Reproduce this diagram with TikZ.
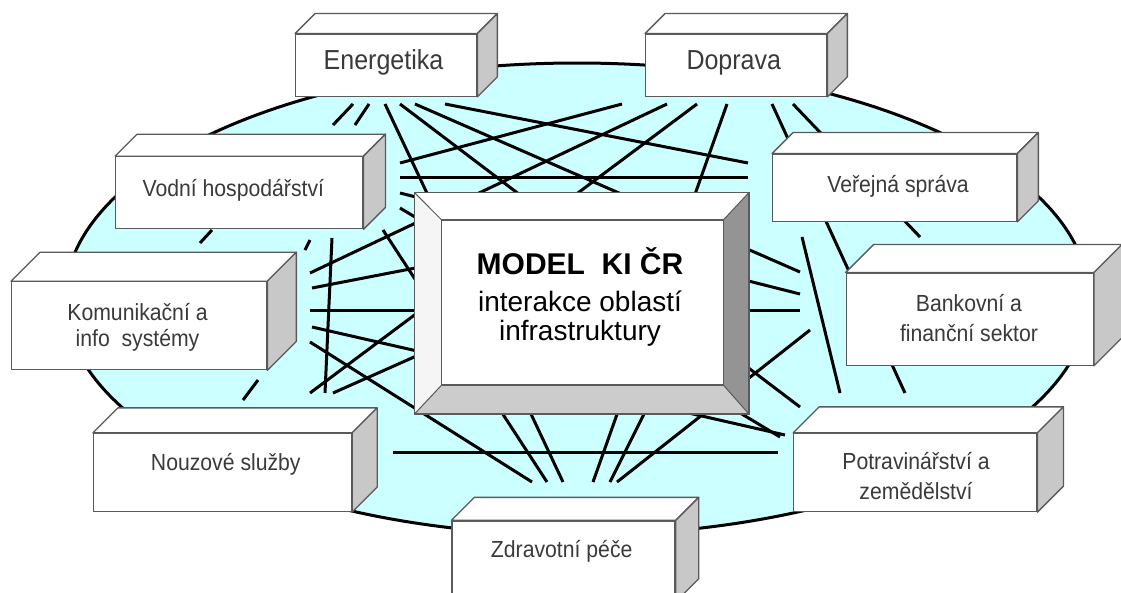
\documentclass[tikz,border=0pt]{standalone}
\usepackage{fontspec}
\setmainfont{Liberation Sans}
\newfontfamily\labfont[FakeStretch=0.91]{Liberation Sans}
\definecolor{sea}{HTML}{CCFFFF}
\definecolor{boxline}{HTML}{5A5A5A}
\definecolor{side}{HTML}{C8C8C8}
\definecolor{labtext}{HTML}{3A3A3A}
\tikzset{
  link/.style={line width=3pt, black},
  front/.style={draw=boxline, fill=white, line width=1.3pt, inner sep=0pt},
  lab/.style={anchor=base, text=labtext, inner sep=0pt, font=\labfont\fontsize{23.3}{26}\selectfont},
  labbig/.style={lab, font=\labfont\fontsize{27.5}{30}\selectfont},
}
\newcommand\boxfaces[2]{%
  \filldraw[fill=white, draw=boxline, line width=1.3pt, line join=round]
    (#1.north west) -- ++(#2,-#2) -- ([shift={(#2,-#2)}]#1.north east) -- (#1.north east) -- cycle;
  \filldraw[fill=side, draw=boxline, line width=1.3pt, line join=round]
    (#1.north east) -- ++(#2,-#2) -- ([shift={(#2,-#2)}]#1.south east) -- (#1.south east) -- cycle;
}
\begin{document}
\begin{tikzpicture}[x=1pt, y=-1pt]
\useasboundingbox (0,0) rectangle (1121,592);
\begin{scope}
\clip (0,0) rectangle (1121,592);
% sea
\fill[sea, draw=black, line width=3pt] (577,299) ellipse [x radius=512, y radius=236];
% links: Energetika
\draw[link] (333,125) -- (353,104);
\draw[link] (200,243) -- (212,230);
\draw[link] (355,125) -- (369,104);
\draw[link] (305,250) -- (310,240);
\draw[link] (385,104) -- (563,482);
\draw[link] (400,104) -- (800,407);
\draw[link] (415,104) -- (800,272);
\draw[link] (445,104) -- (748,163);
% Doprava
\draw[link] (622,104) -- (400,163);
\draw[link] (667,104) -- (310,273);
\draw[link] (697,104) -- (310,393);
\draw[link] (727,104) -- (593,482);
\draw[link] (772,104) -- (905,393);
\draw[link] (793,104) -- (920,237);
% Vodni
\draw[link] (400,177) -- (748,177);
\draw[link] (400,193) -- (800,294);
\draw[link] (400,208) -- (780,437);
\draw[link] (383,230) -- (547,482);
\draw[link] (332,238) -- (325,393);
% Komunikacni
\draw[link] (312,288) -- (560,240);
\draw[link] (310,310) -- (800,310);
\draw[link] (312,327) -- (785,435);
\draw[link] (310,342) -- (532,482);
\draw[link] (243,400) -- (258,380);
% Nouzove
\draw[link] (333,393) -- (520,310);
\draw[link] (393,452) -- (778,452);
% Verejna, Bankovni, Zdravotni
\draw[link] (802,237) -- (840,393);
\draw[link] (810,330) -- (617,482);
\draw[link] (610,482) -- (680,342);
% central box
\node[draw=boxline, line width=1.3pt, minimum width=333pt, minimum height=220pt, inner sep=0pt] (core) at (581.7,303.3) {};
\coordinate (ci1) at (441.7,220);
\coordinate (ci2) at (723.3,220);
\coordinate (ci3) at (723.3,385);
\coordinate (ci4) at (441.7,385);
\fill[white] (core.north west) -- (core.north east) -- (ci2) -- (ci1) -- cycle;
\fill[white!96!black] (core.north west) -- (ci1) -- (ci4) -- (core.south west) -- cycle;
\fill[black!42] (core.north east) -- (ci2) -- (ci3) -- (core.south east) -- cycle;
\fill[black!20] (core.south west) -- (ci4) -- (ci3) -- (core.south east) -- cycle;
\draw[boxline, line width=1.3pt, fill=white] (ci1) rectangle (ci3);
\draw[boxline, line width=1pt] (core.north west) -- (ci1) (core.north east) -- (ci2) (core.south east) -- (ci3) (core.south west) -- (ci4);
\draw[boxline, line width=1.3pt] (core.north west) rectangle (core.south east);
\node[anchor=base, inner sep=0pt, font=\fontsize{30}{34}\bfseries\selectfont] (t1) at (580,274) {MODEL\ \ KI ČR};
\node[anchor=base, inner sep=0pt, font=\fontsize{28}{30}\selectfont] (t2) at (580,311.5) {interakce oblastí};
\node[anchor=base, inner sep=0pt, font=\fontsize{28}{30}\selectfont] (t3) at (580,340) {infrastruktury};
% peripheral boxes
\node[front, minimum width=181pt, minimum height=62pt] (ener) at (386.2,65.2) {};
\boxfaces{ener}{20}
\node[labbig] (enerT) at (383.5,69.3) {Energetika};
\node[front, minimum width=181pt, minimum height=62pt] (dopr) at (736.2,65.2) {};
\boxfaces{dopr}{20}
\node[labbig] (doprT) at (733.8,69.3) {Doprava};
\node[front, minimum width=247pt, minimum height=72pt] (vodn) at (239.3,192.8) {};
\boxfaces{vodn}{22}
\node[lab] (vodnT) at (233.3,196.7) {Vodní hospodářství};
\node[front, minimum width=244pt, minimum height=67pt] (vere) at (894.7,187.7) {};
\boxfaces{vere}{21}
\node[lab] (vereT) at (898,192.5) {Veřejná správa};
\node[front, minimum width=255pt, minimum height=88pt] (komu) at (139.2,325.8) {};
\boxfaces{komu}{29}
\node[lab] (komuT1) at (137.5,320) {Komunikační a};
\node[lab] (komuT2) at (137.5,346) {info\ \ systémy};
\node[front, minimum width=247pt, minimum height=92pt] (bank) at (969.7,319.2) {};
\boxfaces{bank}{28}
\node[lab] (bankT1) at (969,311.7) {Bankovní a};
\node[lab] (bankT2) at (969,341.7) {finanční sektor};
\node[front, minimum width=258pt, minimum height=78pt] (nouz) at (222.5,472.5) {};
\boxfaces{nouz}{25}
\node[lab] (nouzT) at (225.8,470.5) {Nouzové služby};
\node[front, minimum width=243pt, minimum height=78pt] (potr) at (915.3,472.5) {};
\boxfaces{potr}{26}
\node[lab] (potrT1) at (916,469) {Potravinářství a};
\node[lab] (potrT2) at (916,499) {zemědělství};
\node[front, minimum width=223pt, minimum height=80pt] (zdra) at (563.6,561) {};
\boxfaces{zdra}{23}
\node[lab] (zdraT) at (561.7,557.7) {Zdravotní péče};
\end{scope}
\end{tikzpicture}
\end{document}
